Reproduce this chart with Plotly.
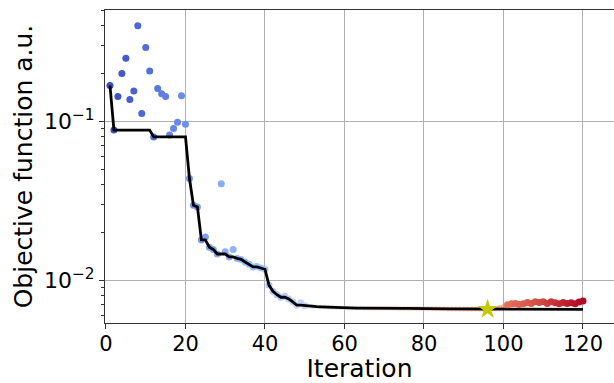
import numpy as np
import plotly.graph_objects as go

# ---- data ----
iterations = list(range(1, 121))
objective = [
    0.168, 0.088, 0.143, 0.200, 0.249, 0.137, 0.155, 0.400, 0.112, 0.291,   # 1-10
    0.207, 0.0797, 0.161, 0.149, 0.143, 0.082, 0.090, 0.0985, 0.145, 0.0957,  # 11-20
    0.0436, 0.0296, 0.0289, 0.0179, 0.0187, 0.0161, 0.0156, 0.0146, 0.0404, 0.0151,  # 21-30
    0.0140, 0.0156, 0.0137, 0.0135, 0.0130, 0.0126, 0.0121, 0.0122, 0.0119, 0.0117,  # 31-40
    0.0093, 0.0085, 0.0081, 0.0078, 0.0079, 0.0076, 0.0073, 0.00695, 0.0072, 0.0069,  # 41-50
    0.00685, 0.00682, 0.0068, 0.00678, 0.00676, 0.00675, 0.00673, 0.00672, 0.0067, 0.00669,  # 51-60
    0.00668, 0.00668, 0.00667, 0.00667, 0.00666, 0.00666, 0.00666, 0.00665, 0.00665, 0.00665,  # 61-70
    0.00664, 0.00664, 0.00664, 0.00663, 0.00663, 0.00663, 0.00662, 0.00662, 0.00662, 0.00661,  # 71-80
    0.00661, 0.00661, 0.00660, 0.00660, 0.00660, 0.00659, 0.00659, 0.00659, 0.00658, 0.00658,  # 81-90
    0.00658, 0.00657, 0.00657, 0.00657, 0.00656, 0.00655, 0.00662, 0.00666, 0.00672, 0.00680,  # 91-100
    0.00700, 0.00710, 0.00712, 0.00702, 0.00710, 0.00722, 0.00712, 0.00730, 0.00722, 0.00732,  # 101-110
    0.00712, 0.00730, 0.00720, 0.00710, 0.00722, 0.00712, 0.00720, 0.00710, 0.00728, 0.00740,  # 111-120
]
best_iteration = 96
x_ticks = [0, 20, 40, 60, 80, 100, 120]
y_ticks = [0.01, 0.1]
y_ticktext = ["10<sup>\u22122</sup>", "10<sup>\u22121</sup>"]
y_minor = [0.006, 0.007, 0.008, 0.009, 0.02, 0.03, 0.04, 0.05, 0.06, 0.07, 0.08, 0.09, 0.2, 0.3, 0.4, 0.5]

best_so_far = np.minimum.accumulate(np.array(objective))
best_value = float(np.min(objective))

# matplotlib "coolwarm" colour stops
coolwarm = [
    [0.0, "#3b4cc0"], [0.1, "#5977e3"], [0.2, "#7b9ff9"], [0.3, "#9ebeff"],
    [0.4, "#c0d4f5"], [0.5, "#dddcdc"], [0.6, "#f2cbb7"], [0.7, "#f7ac8e"],
    [0.8, "#ee8468"], [0.9, "#d65244"], [1.0, "#b40426"],
]

FONT = "DejaVu Sans"
fig = go.Figure()

# early points: drawn beneath the best-so-far line
fig.add_trace(go.Scatter(
    x=iterations[:50], y=objective[:50], mode="markers",
    marker=dict(size=7, color=iterations[:50], colorscale=coolwarm, cmin=1, cmax=120,
                line=dict(width=0)),
    showlegend=False,
))
# plateau points: small, mostly hidden under the line
fig.add_trace(go.Scatter(
    x=iterations[50:100], y=objective[50:100], mode="markers",
    marker=dict(size=5, color=iterations[50:100], colorscale=coolwarm, cmin=1, cmax=120,
                opacity=0.6, line=dict(width=0)),
    showlegend=False,
))
fig.add_trace(go.Scatter(
    x=iterations, y=best_so_far, mode="lines",
    line=dict(color="black", width=2.8), showlegend=False,
))
# late points drawn above the line
fig.add_trace(go.Scatter(
    x=iterations[100:], y=objective[100:], mode="markers",
    marker=dict(size=7, color=iterations[100:], colorscale=coolwarm, cmin=1, cmax=120,
                line=dict(width=0)),
    showlegend=False,
))
fig.add_trace(go.Scatter(
    x=[best_iteration], y=[best_value], mode="markers",
    marker=dict(symbol="star", size=15, color="#c8c800", line=dict(width=0)),
    showlegend=False,
))
# invisible trace carrying the minor-tick axis
fig.add_trace(go.Scatter(x=[1], y=[0.1], yaxis="y2", mode="markers",
                         marker=dict(opacity=0), showlegend=False, hoverinfo="skip"))

yrange = [np.log10(0.00537), np.log10(0.502)]
fig.update_layout(
    width=614, height=383,
    margin=dict(l=105, r=0, t=10, b=60),
    paper_bgcolor="white", plot_bgcolor="white",
    font=dict(family=FONT, color="black"),
    xaxis=dict(
        range=[-0.25, 127.8], tickvals=x_ticks, ticks="outside", ticklen=5, tickwidth=1,
        tickcolor="#333333", showline=True, linecolor="#333333", linewidth=1, mirror=True,
        showgrid=True, gridcolor="#b0b0b0", gridwidth=1, zeroline=False,
        tickfont=dict(size=21, family=FONT), ticklabelstandoff=-3,
        title=dict(text="Iteration", font=dict(size=25, family=FONT), standoff=0),
    ),
    yaxis=dict(
        type="log", range=yrange, tickvals=y_ticks, ticktext=y_ticktext,
        ticks="outside", ticklen=5, tickwidth=1, tickcolor="#333333",
        showline=True, linecolor="#333333", linewidth=1,
        showgrid=True, gridcolor="#b0b0b0", gridwidth=1, zeroline=False,
        tickfont=dict(size=22, family=FONT),
        title=dict(text="Objective function a.u.", font=dict(size=25, family=FONT), standoff=4),
    ),
    yaxis2=dict(
        type="log", range=yrange, overlaying="y", side="left", tickvals=y_minor,
        showticklabels=False, ticks="outside", ticklen=3, tickwidth=1, tickcolor="#333333",
        showgrid=False, showline=False, zeroline=False,
    ),
)

fig.write_html("out.html")
